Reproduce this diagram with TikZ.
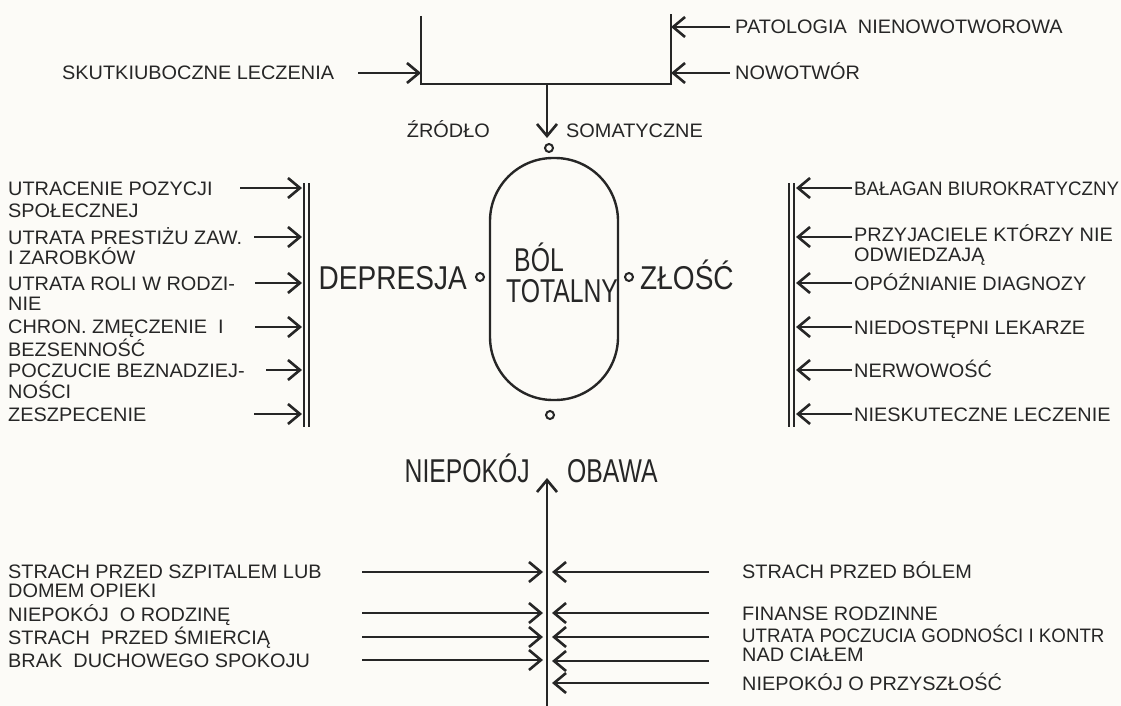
\documentclass[tikz,border=0pt]{standalone}
\usepackage{fontspec}
\setmainfont{Liberation Sans}
\newfontfamily\smallf[FakeStretch=1.02]{Liberation Sans}
\newfontfamily\smallnf[FakeStretch=0.96]{Liberation Sans}
\newfontfamily\bigf[FakeStretch=0.75]{Liberation Sans}
\newfontfamily\bigw[FakeStretch=0.85]{Liberation Sans}
\usetikzlibrary{arrows.meta}
\definecolor{ink}{HTML}{262626}
\definecolor{paper}{HTML}{FCFBF7}
\tikzset{
  lbl/.style={anchor=base west, inner sep=0pt, text=ink, font=\smallf\fontsize{19.5}{21}\selectfont},
  lbln/.style={lbl, font=\smallnf\fontsize{19.5}{21}\selectfont},
  lble/.style={lbl, anchor=base east},
  big/.style={inner sep=0pt, text=ink, font=\bigf\fontsize{33}{35}\selectfont},
  bigx/.style={inner sep=0pt, text=ink, font=\bigw\fontsize{33}{35}\selectfont},
  ln/.style={draw=ink, line width=2.6pt},
  arr/.style={ln, -{Straight Barb[length=12pt, width=20pt, line width=2.6pt]}},
  dot/.style={circle, draw=ink, line width=2pt, minimum size=8pt, inner sep=0pt},
  capsule/.style={draw=ink, line width=2.4pt, rounded corners=63pt, minimum width=128pt, minimum height=242pt, inner sep=0pt},
}
\begin{document}
\begin{tikzpicture}[x=1pt,y=-1pt]
\fill[paper] (0,0) rectangle (1121,706);
\useasboundingbox (0,0) rectangle (1121,706);
\clip (0,0) rectangle (1121,706);

% ---------- top: somatic source ----------
\coordinate (bTL) at (421,16);
\coordinate (bBL) at (421,84);
\coordinate (bBR) at (671,84);
\coordinate (bTR) at (671,14);
\coordinate (bMid) at (547,84);
\coordinate (srcTip) at (547,138);
\draw[ln] (bTL) -- (bBL) -- (bBR) -- (bTR);
\draw[arr] (bMid) -- (srcTip);

\node[lbl] (skut) at (62,80) {SKUTKIUBOCZNE LECZENIA};
\coordinate (skutA) at (358,73); \coordinate (skutB) at (421,73);
\draw[arr] (skutA) -- (skutB);

\node[lbl] (pato) at (735,34) {PATOLOGIA\ \ NIENOWOTWOROWA};
\coordinate (patoA) at (730,27); \coordinate (patoB) at (671,27);
\draw[arr] (patoA) -- (patoB);

\node[lbl] (nowo) at (735,80) {NOWOTWÓR};
\coordinate (nowoA) at (730,73); \coordinate (nowoB) at (671,73);
\draw[arr] (nowoA) -- (nowoB);

\node[lble] (zrodlo) at (490,137) {ŹRÓDŁO};
\node[lbl] (somat) at (566,137) {SOMATYCZNE};

% ---------- centre ----------
\node[dot] (dtop) at (549,148) {};
\node[capsule] (bol) at (554,279) {};
\node[big, anchor=base] (bolA) at (539,271) {BÓL};
\node[big, anchor=base] (bolB) at (562,302) {TOTALNY};
\node[dot] (dleft) at (480,277) {};
\node[dot] (dright) at (629,277) {};
\node[dot] (dbot) at (550,415) {};
\node[bigx, anchor=base east] (depr) at (467,289) {DEPRESJA};
\node[bigx, anchor=base west] (zlosc) at (640,289) {ZŁOŚĆ};

% ---------- left: depression ----------
\coordinate (lL1) at (304,183); \coordinate (lL2) at (304,427);
\coordinate (lR1) at (309,183); \coordinate (lR2) at (309,427);
\draw[ln] (lL1) -- (lL2);
\draw[ln] (lR1) -- (lR2);

\node[lbl] (d1a) at (8,195) {UTRACENIE POZYCJI};
\node[lbl] (d1b) at (8,217) {SPOŁECZNEJ};
\node[lbl] (d2a) at (8,244) {UTRATA PRESTIŻU ZAW.};
\node[lbl] (d2b) at (8,264) {I ZAROBKÓW};
\node[lbl] (d3a) at (8,290) {UTRATA ROLI W RODZI-};
\node[lbl] (d3b) at (8,310) {NIE};
\node[lbl] (d4a) at (8,333) {CHRON. ZMĘCZENIE\ \ I};
\node[lbl] (d4b) at (8,356) {BEZSENNOŚĆ};
\node[lbl] (d5a) at (8,377) {POCZUCIE BEZNADZIEJ-};
\node[lbl] (d5b) at (8,398) {NOŚCI};
\node[lbl] (d6a) at (8,421) {ZESZPECENIE};

\foreach \i/\xs/\yy in {1/240/188, 2/254/237, 3/255/283, 4/255/327, 5/266/370, 6/254/414}{
  \coordinate (da\i) at (\xs,\yy);
  \coordinate (db\i) at (302,\yy);
  \draw[arr] (da\i) -- (db\i);
}

% ---------- right: anger ----------
\coordinate (rL1) at (789,183); \coordinate (rL2) at (789,427);
\coordinate (rR1) at (794,183); \coordinate (rR2) at (794,427);
\draw[ln] (rL1) -- (rL2);
\draw[ln] (rR1) -- (rR2);

\node[lbln] (z1) at (854,195) {BAŁAGAN BIUROKRATYCZNY};
\node[lbl] (z2a) at (854,241) {PRZYJACIELE KTÓRZY NIE};
\node[lbl] (z2b) at (854,261) {ODWIEDZAJĄ};
\node[lbl] (z3) at (854,290) {OPÓŹNIANIE DIAGNOZY};
\node[lbl] (z4) at (854,334) {NIEDOSTĘPNI LEKARZE};
\node[lbl] (z5) at (854,377) {NERWOWOŚĆ};
\node[lbl] (z6) at (854,421) {NIESKUTECZNE LECZENIE};

\foreach \i/\yy in {1/188, 2/237, 3/283, 4/327, 5/370, 6/414}{
  \coordinate (za\i) at (852,\yy);
  \coordinate (zb\i) at (796,\yy);
  \draw[arr] (za\i) -- (zb\i);
}

% ---------- bottom: anxiety ----------
\coordinate (upBase) at (547,706);
\coordinate (upTip) at (547,478);
\draw[arr] (upBase) -- (upTip);
\node[big, anchor=base east] (niep) at (530,482) {NIEPOKÓJ};
\node[big, anchor=base west] (obawa) at (567,482) {OBAWA};

\node[lbl] (a1a) at (8,578) {STRACH\ PRZED SZPITALEM\ LUB};
\node[lbl] (a1b) at (8,597) {DOMEM\ OPIEKI};
\node[lbl] (a2) at (8,621) {NIEPOKÓJ\ \ O RODZINĘ};
\node[lbl] (a3) at (8,644) {STRACH\ \ PRZED ŚMIERCIĄ};
\node[lbl] (a4) at (8,667) {BRAK\ \ DUCHOWEGO SPOKOJU};

\foreach \i/\yy in {1/572, 2/613, 3/637, 4/660}{
  \coordinate (aa\i) at (362,\yy);
  \coordinate (ab\i) at (543,\yy);
  \draw[arr] (aa\i) -- (ab\i);
}

\node[lbl] (b1) at (742,578) {STRACH PRZED BÓLEM};
\node[lbl] (b2) at (742,620) {FINANSE RODZINNE};
\node[lbln] (b3a) at (742,642) {UTRATA POCZUCIA GODNOŚCI I KONTR};
\node[lbl] (b3b) at (742,661) {NAD CIAŁEM};
\node[lbl] (b4) at (742,690) {NIEPOKÓJ O PRZYSZŁOŚĆ};

\foreach \i/\yy in {1/572, 2/613, 3/637, 4/661, 5/683}{
  \coordinate (ba\i) at (709,\yy);
  \coordinate (bb\i) at (552,\yy);
  \draw[arr] (ba\i) -- (bb\i);
}
\end{tikzpicture}
\end{document}
